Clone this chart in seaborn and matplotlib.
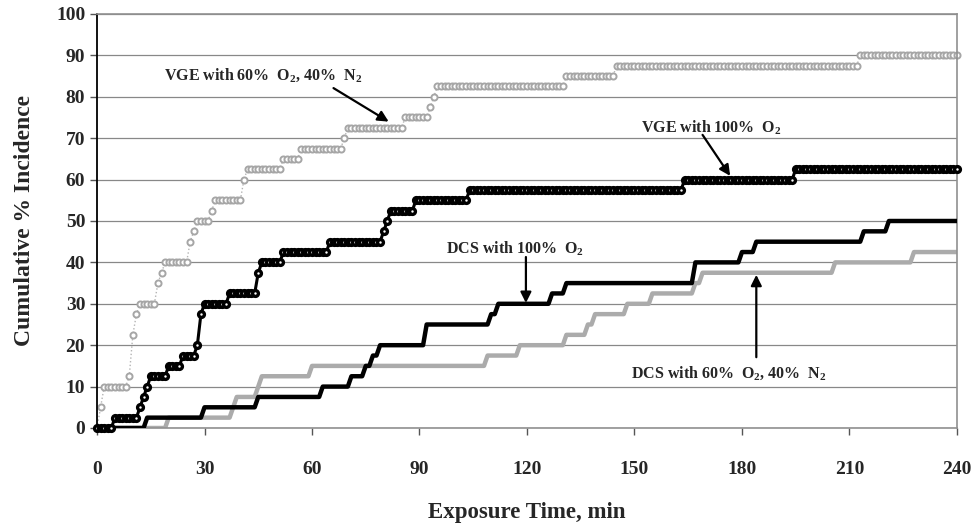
import numpy as np
import pandas as pd
import seaborn as sns
import matplotlib
matplotlib.use('Agg')
import matplotlib.pyplot as plt

# step events: minute at which the level changes, new level (%)
vge60_t = [0, 1, 2, 9, 10, 11, 12, 17, 18, 19, 26, 27, 28, 32, 33, 41, 42, 52, 57,
           69, 70, 86, 93, 94, 95, 131, 145, 213]
vge60_v = [0, 5, 10, 12.5, 22.5, 27.5, 30, 35, 37.5, 40, 45, 47.5, 50, 52.5, 55, 60,
           62.5, 65, 67.5, 70, 72.5, 75, 77.5, 80, 82.5, 85, 87.5, 90]

vge100_t = [0, 5, 12, 13, 14, 15, 20, 24, 28, 29, 30, 37, 45, 46, 52, 65, 80, 81, 82,
            89, 104, 164, 195]
vge100_v = [0, 2.5, 5, 7.5, 10, 12.5, 15, 17.5, 20, 27.5, 30, 32.5, 37.5, 40, 42.5,
            45, 47.5, 50, 52.5, 55, 57.5, 60, 62.5]

dcs100_t = [0, 14, 30, 45, 63, 71, 75, 77, 79, 92, 110, 112, 127, 131, 167, 180, 184,
            214, 221]
dcs100_v = [0, 2.5, 5, 7.5, 10, 12.5, 15, 17.5, 20, 25, 27.5, 30, 32.5, 35, 40, 42.5,
            45, 47.5, 50]

dcs60_t = [0, 20, 38, 39, 45, 46, 60, 109, 118, 131, 137, 139, 148, 155, 167, 169,
           206, 228]
dcs60_v = [0, 2.5, 5, 7.5, 10, 12.5, 15, 17.5, 20, 22.5, 25, 27.5, 30, 32.5, 35, 37.5,
           40, 42.5]

minutes = np.arange(0, 241)


def per_minute(ev_t, ev_v):
    # hold each level until the next change (cumulative incidence is a step curve)
    idx = np.searchsorted(ev_t, minutes, side='right') - 1
    return pd.DataFrame({'t': minutes, 'pct': np.array(ev_v)[idx]})


sns.set_style('white')
plt.rcParams['font.family'] = ['Liberation Serif', 'DejaVu Serif']
plt.rcParams['font.weight'] = 'bold'
plt.rcParams['mathtext.fontset'] = 'custom'
plt.rcParams['mathtext.rm'] = 'Liberation Serif:bold'
plt.rcParams['mathtext.it'] = 'Liberation Serif:bold'
plt.rcParams['mathtext.bf'] = 'Liberation Serif:bold'

fig, ax = plt.subplots(figsize=(9.76, 5.28), dpi=100)
fig.subplots_adjust(left=0.0994, right=0.9805, bottom=0.1894, top=0.9735)

# DCS curves: plain thick lines
sns.lineplot(data=per_minute(dcs60_t, dcs60_v), x='t', y='pct', ax=ax,
             color='#ababab', lw=3.2, zorder=2)
sns.lineplot(data=per_minute(dcs100_t, dcs100_v), x='t', y='pct', ax=ax,
             color='black', lw=3.2, zorder=3)

# VGE curves: circle at every minute, overlapping into a beaded band
sns.lineplot(data=per_minute(vge60_t, vge60_v), x='t', y='pct', ax=ax,
             color='#b4b4b4', lw=1, ls=':', marker='o', ms=4.4, mfc='white',
             mec='#a6a6a6', mew=1.4, zorder=2, clip_on=False)
sns.lineplot(data=per_minute(vge100_t, vge100_v), x='t', y='pct', ax=ax,
             color='black', lw=2.2, marker='o', ms=4.2, mfc='white',
             mec='black', mew=2.4, zorder=4, clip_on=False)

ax.set_xlim(0, 240)
ax.set_ylim(0, 100)
ax.set_xticks(range(0, 241, 30))
ax.set_yticks(range(0, 101, 10))
ax.yaxis.grid(True, color='#888888', lw=0.9)
ax.xaxis.grid(False)
ax.tick_params(axis='both', direction='out', length=5, width=1, color='#555555',
               labelsize=14, bottom=True, left=True)
ax.tick_params(axis='x', pad=19)
for lab in ax.get_xticklabels() + ax.get_yticklabels():
    lab.set_fontweight('bold')

ax.spines['left'].set_color('black')
ax.spines['left'].set_linewidth(1.3)
for s in ['top', 'right', 'bottom']:
    ax.spines[s].set_color('#909090')
    ax.spines[s].set_linewidth(1.2)
    ax.spines[s].set_linestyle((0, (1, 1)))

ax.set_xlabel('Exposure Time, min', fontsize=16.5, fontweight='bold', labelpad=17)
ax.set_ylabel('Cumulative % Incidence', fontsize=17, fontweight='bold', labelpad=15)

arrow = dict(arrowstyle='-|>', color='black', lw=1.6, mutation_scale=16,
             shrinkA=0, shrinkB=0)
tsize = 11.5

ax.text(18.7, 85.3, 'VGE with 60%  O$_2$, 40%  N$_2$', fontsize=tsize,
        fontweight='bold', va='center', ha='left')
ax.annotate('', xy=(81.4, 74), xytext=(66, 82.1), arrowprops=arrow)

ax.text(151.7, 72.5, 'VGE with 100%  O$_2$', fontsize=tsize,
        fontweight='bold', va='center', ha='left')
ax.annotate('', xy=(176.7, 60.9), xytext=(169, 70.8), arrowprops=arrow)

ax.text(97.4, 43.2, 'DCS with 100%  O$_2$', fontsize=tsize,
        fontweight='bold', va='center', ha='left')
ax.annotate('', xy=(119.7, 30.2), xytext=(119.7, 41.3), arrowprops=arrow)

ax.text(149, 13.3, 'DCS with 60%  O$_2$, 40%  N$_2$', fontsize=tsize,
        fontweight='bold', va='center', ha='left')
ax.annotate('', xy=(184, 37), xytext=(184, 17.1), arrowprops=arrow)

fig.savefig('out.png', dpi=100)
